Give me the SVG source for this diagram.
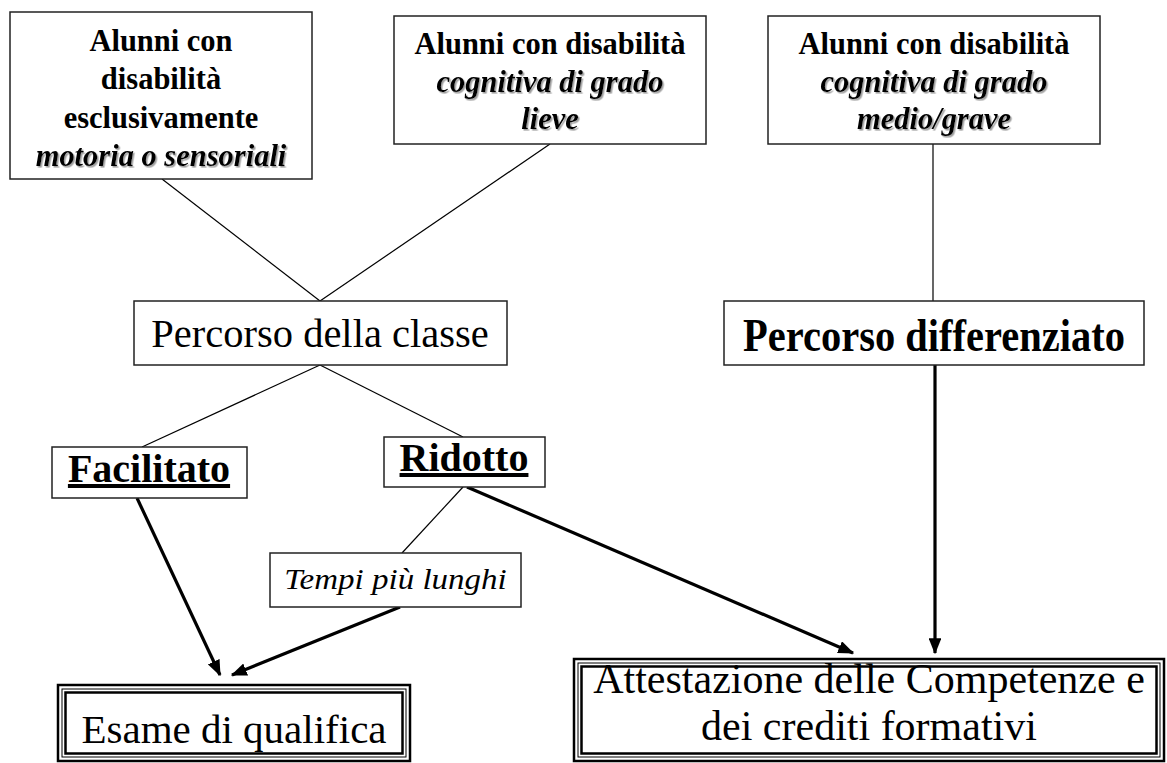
<svg xmlns="http://www.w3.org/2000/svg" width="1167" height="763" viewBox="0 0 1167 763">
<style>
.box{fill:#fff;stroke:#222;stroke-width:1.5}
.t{font-family:"Liberation Serif","Times New Roman",serif;text-anchor:middle;fill:#000}
.b{font-weight:bold}
.i{font-style:italic}
.sh{filter:url(#shadow)}
.u{text-decoration:underline;text-decoration-thickness:4px;text-underline-offset:4px}
.thin{stroke:#000;stroke-width:1.2;fill:none}
.thick{stroke:#000;stroke-width:3.2;fill:none;marker-end:url(#ah)}
.tr1{fill:none;stroke:#000;stroke-width:2.5}
.tr2{fill:none;stroke:#000;stroke-width:1}
</style>
<defs>
<filter id="shadow" x="-10%" y="-30%" width="120%" height="160%">
<feDropShadow dx="1.5" dy="1.5" stdDeviation="0.6" flood-color="#888" flood-opacity="0.8"/>
</filter>
<marker id="ah" markerWidth="5" markerHeight="4" refX="4.6" refY="2" orient="auto" markerUnits="strokeWidth">
<path d="M0,0 L5,2 L0,4 Z" fill="#000"/>
</marker>
</defs>
<rect width="1167" height="763" fill="#fff"/>
<g id="connectors">
<line class="thin" x1="162" y1="179" x2="320" y2="301"/>
<line class="thin" x1="550" y1="144" x2="320" y2="301"/>
<line class="thin" x1="933" y1="144" x2="933" y2="301"/>
<line class="thin" x1="320" y1="365" x2="142" y2="447"/>
<line class="thin" x1="320" y1="365" x2="463" y2="437"/>
<line class="thin" x1="463" y1="487" x2="402" y2="553"/>
<line class="thick" x1="137" y1="498" x2="220" y2="675"/>
<line class="thick" x1="400" y1="607" x2="232" y2="675"/>
<line class="thick" x1="467" y1="487" x2="853" y2="653"/>
<line class="thick" x1="935" y1="365" x2="935" y2="653"/>
</g>
<g id="n1">
<rect class="box" x="10" y="12" width="302" height="167"/>
<text class="t b" font-size="30.5" transform="translate(161,51) scale(1,1.06)">Alunni con</text>
<text class="t b" font-size="30.5" transform="translate(161,89) scale(1,1.06)">disabilità</text>
<text class="t b" font-size="30.5" transform="translate(161,128) scale(1,1.06)">esclusivamente</text>
<text class="t b i sh" font-size="30.5" transform="translate(161,166) scale(1,1.06)">motoria o sensoriali</text>
</g>
<g id="n2">
<rect class="box" x="394" y="16" width="312" height="128"/>
<text class="t b" font-size="30.5" transform="translate(550,54) scale(1,1.06)">Alunni con disabilità</text>
<text class="t b i sh" font-size="30.5" transform="translate(550,92) scale(1,1.06)">cognitiva di grado</text>
<text class="t b i sh" font-size="30.5" transform="translate(550,129) scale(1,1.06)">lieve</text>
</g>
<g id="n3">
<rect class="box" x="768" y="16" width="332" height="128"/>
<text class="t b" font-size="30.5" transform="translate(934,54) scale(1,1.06)">Alunni con disabilità</text>
<text class="t b i sh" font-size="30.5" transform="translate(934,92) scale(1,1.06)">cognitiva di grado</text>
<text class="t b i sh" font-size="30.5" transform="translate(934,129) scale(1,1.06)">medio/grave</text>
</g>
<g id="n4">
<rect class="box" x="134" y="301" width="373" height="64"/>
<text class="t" font-size="40.5" x="320" y="347">Percorso della classe</text>
</g>
<g id="n5">
<rect class="box" x="724" y="301" width="420" height="64"/>
<text class="t b" font-size="40.5" transform="translate(934,351) scale(1,1.15)">Percorso differenziato</text>
</g>
<g id="n6">
<rect class="box" x="52" y="447" width="195" height="51"/>
<text class="t b u" font-size="40" x="149" y="482">Facilitato</text>
</g>
<g id="n7">
<rect class="box" x="384" y="437" width="161" height="50"/>
<text class="t b u" font-size="40" x="464" y="471">Ridotto</text>
</g>
<g id="n8">
<rect class="box" x="270" y="553" width="251" height="54"/>
<text class="t i" font-size="33" transform="translate(395.5,589) scale(1,0.88)">Tempi più lunghi</text>
</g>
<g id="n9">
<rect class="tr1" x="58" y="685" width="352" height="76"/>
<rect class="tr2" x="62" y="689" width="344" height="68"/>
<rect class="tr1" x="65.5" y="692.5" width="337" height="61"/>
<text class="t" font-size="41" x="234" y="743">Esame di qualifica</text>
</g>
<g id="n10">
<rect class="tr1" x="574" y="659" width="590" height="102"/>
<rect class="tr2" x="578" y="663" width="582" height="94"/>
<rect class="tr1" x="581.5" y="666.5" width="575" height="87"/>
<text class="t" font-size="42" x="869" y="693">Attestazione delle Competenze e</text>
<text class="t" font-size="42" x="869" y="740">dei crediti formativi</text>
</g>
</svg>
